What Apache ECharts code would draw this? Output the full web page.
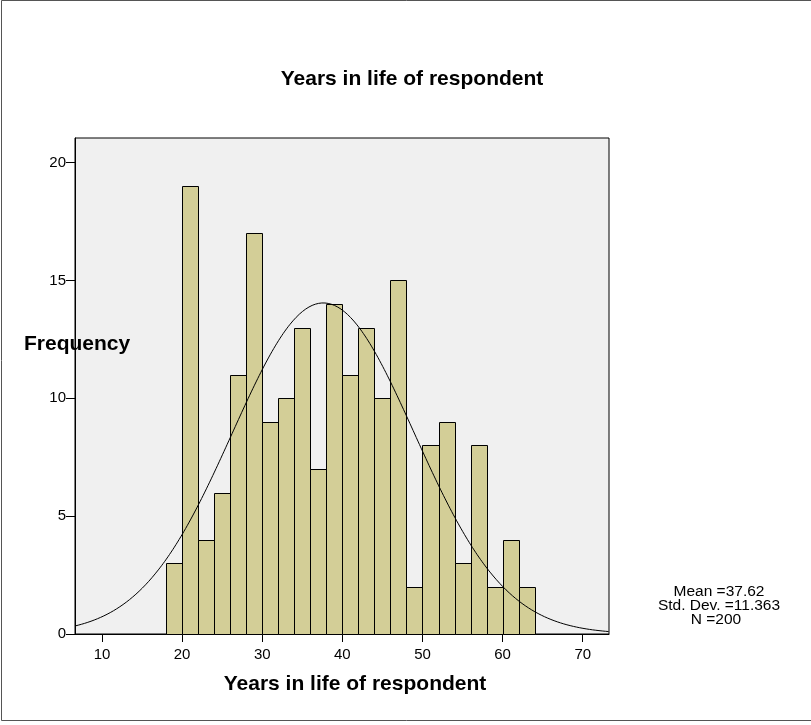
<!DOCTYPE html>
<html>
<head>
<meta charset="utf-8">
<script src="https://cdn.jsdelivr.net/npm/echarts@6/dist/echarts.min.js"></script>
<style>
  html, body { margin: 0; padding: 0; background: #fff; }
  #chart { width: 811px; height: 725px; }
</style>
</head>
<body>
<div id="chart"></div>
<script>
// Histogram bins (age in years) and their counts
const binStarts = [18, 20, 22, 24, 26, 28, 30, 32, 34, 36, 38, 40, 42, 44, 46, 48, 50, 52, 54, 56, 58, 60, 62];
const binEnds   = [20, 22, 24, 26, 28, 30, 32, 34, 36, 38, 40, 42, 44, 46, 48, 50, 52, 54, 56, 58, 60, 62, 64];
const frequencies = [3, 19, 4, 6, 11, 17, 9, 10, 13, 7, 14, 11, 13, 10, 15, 2, 8, 9, 3, 8, 2, 4, 2];

// Axis ticks
const xTicks = [10, 20, 30, 40, 50, 60, 70];
const yTicks = [0, 5, 10, 15, 20];
const xMin = 6.63, xMax = 73.28, yMax = 21.04;

// Summary statistics shown beside the chart
const meanAge = 37.62;
const sdAge = 11.363;
const nCases = 200;
const binWidth = 2;

const FONT = "'Liberation Sans', Arial, Helvetica, sans-serif";

// Fitted normal curve, scaled to counts per bin
const curve = [];
for (let x = xMin; x <= xMax + 1e-9; x += 0.2) {
  const z = (x - meanAge) / sdAge;
  const y = nCases * binWidth * Math.exp(-0.5 * z * z) / (sdAge * Math.sqrt(2 * Math.PI));
  curve.push([x, y]);
}

const bars = binStarts.map((s, i) => [s, binEnds[i], frequencies[i]]);

const chart = echarts.init(document.getElementById('chart'), null, { renderer: 'canvas' });

chart.setOption({
  animation: false,
  backgroundColor: '#ffffff',
  grid: {
    left: 75, top: 138, right: 202, bottom: 91,
    show: true, backgroundColor: '#f0f0f0', borderColor: '#000', borderWidth: 1
  },
  xAxis: {
    type: 'value', min: xMin, max: xMax,
    splitLine: { show: false },
    axisLine: { show: true, onZero: false, lineStyle: { color: '#000', width: 1 } },
    axisTick: { show: true, length: 8, customValues: xTicks, lineStyle: { color: '#000' } },
    axisLabel: { customValues: xTicks, margin: 13, color: '#000', fontSize: 15, fontFamily: FONT }
  },
  yAxis: {
    type: 'value', min: 0, max: yMax,
    splitLine: { show: false },
    axisLine: { show: true, lineStyle: { color: '#000', width: 1 } },
    axisTick: { show: true, length: 9, customValues: yTicks, lineStyle: { color: '#000' } },
    axisLabel: { customValues: yTicks, margin: 9, color: '#000', fontSize: 15, fontFamily: FONT }
  },
  series: [
    {
      type: 'custom',
      data: bars,
      encode: { x: [0, 1], y: 2 },
      z: 2,
      renderItem: function (params, api) {
        const p0 = api.coord([api.value(0), 0]);
        const p1 = api.coord([api.value(1), api.value(2)]);
        const x0 = Math.round(p0[0]) + 0.5;
        const x1 = Math.round(p1[0]) + 0.5;
        const yTop = Math.round(p1[1]) + 0.5;
        const yBot = Math.round(p0[1]) + 0.5;
        return {
          type: 'rect',
          shape: { x: x0, y: yTop, width: x1 - x0, height: yBot - yTop },
          style: { fill: '#d3ce97', stroke: '#000', lineWidth: 1 }
        };
      }
    },
    {
      type: 'line',
      data: curve,
      z: 3,
      showSymbol: false,
      smooth: false,
      silent: true,
      lineStyle: { color: '#000', width: 1 }
    }
  ],
  graphic: [
    {
      type: 'rect', silent: true, z: -1,
      shape: { x: 1.5, y: 0.5, width: 830, height: 720 },
      style: { fill: 'none', stroke: '#555', lineWidth: 1 }
    },
    {
      type: 'text', silent: true,
      style: { text: 'Years in life of respondent', x: 412, y: 79, textAlign: 'center', textVerticalAlign: 'middle',
               font: 'bold 21px ' + FONT, fill: '#000' }
    },
    {
      type: 'text', silent: true,
      style: { text: 'Years in life of respondent', x: 355, y: 684, textAlign: 'center', textVerticalAlign: 'middle',
               font: 'bold 21px ' + FONT, fill: '#000' }
    },
    {
      type: 'text', silent: true,
      style: { text: 'Frequency', x: 24, y: 344, textAlign: 'left', textVerticalAlign: 'middle',
               font: 'bold 21px ' + FONT, fill: '#000' }
    },
    {
      type: 'text', silent: true,
      style: { text: 'Mean =' + meanAge.toFixed(2), x: 719, y: 592, textAlign: 'center', textVerticalAlign: 'middle',
               font: '15.5px ' + FONT, fill: '#000' }
    },
    {
      type: 'text', silent: true,
      style: { text: 'Std. Dev. =' + sdAge.toFixed(3), x: 719, y: 605.5, textAlign: 'center', textVerticalAlign: 'middle',
               font: '15.5px ' + FONT, fill: '#000' }
    },
    {
      type: 'text', silent: true,
      style: { text: 'N =' + nCases, x: 716, y: 619.5, textAlign: 'center', textVerticalAlign: 'middle',
               font: '15.5px ' + FONT, fill: '#000' }
    }
  ]
});
</script>
</body>
</html>
